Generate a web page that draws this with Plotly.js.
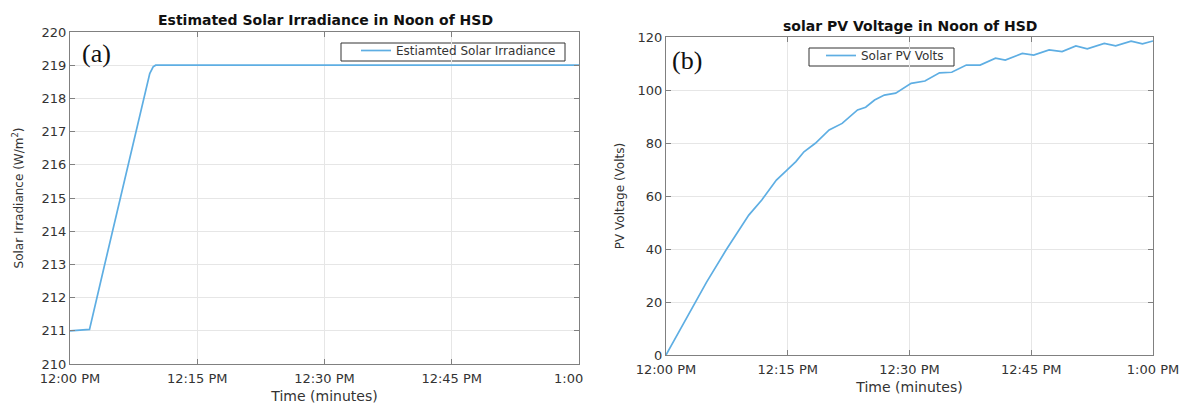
<!DOCTYPE html>
<html>
<head>
<meta charset="utf-8">
<script src="https://cdn.plot.ly/plotly-3.0.1.min.js"></script>
<style>html,body{margin:0;padding:0;background:#fff;}#chart{width:1188px;height:406px;}</style>
</head>
<body>
<div id="chart"></div>
<script>
// Time in minutes after 12:00 PM
const irrTime = [0, 1, 2.3, 4, 6, 8, 9.4, 9.8, 10.1, 15, 30, 45, 60];
const irrValues = [211, 211.02, 211.04, 212.9, 215.1, 217.3, 218.75, 218.95, 219, 219, 219, 219, 219];

const pvTime = [0, 1, 2, 3.6, 5, 7.4, 9, 10.2, 11.8, 13.6, 14.9, 16, 17, 18.4, 20.1, 21.7, 23.6, 24.6, 25.7, 26.9, 28.3, 30.2, 31.9, 33.7, 35.2, 37, 38.7, 40.6, 41.8, 43.9, 45.3, 47.2, 48.8, 50.5, 51.9, 54, 55.4, 57.3, 58.7, 60];
const pvValues = [0, 5.5, 11, 19.5, 27.5, 39.6, 47, 52.8, 58.5, 66, 69.8, 73, 76.7, 79.9, 84.9, 87.4, 92.5, 93.5, 96.2, 98.1, 98.8, 102.5, 103.4, 106.5, 106.7, 109.4, 109.4, 112, 111.3, 113.8, 113.2, 115.1, 114.5, 116.6, 115.5, 117.6, 116.7, 118.4, 117.4, 118.5];

const tickVals = [0, 15, 30, 45, 60];
const tickTextA = ['12:00 PM', '12:15 PM', '12:30 PM', '12:45 PM', '1:00\u00a0\u00a0\u00a0\u00a0\u00a0'];
const tickTextB = ['12:00 PM', '12:15 PM', '12:30 PM', '12:45 PM', '1:00 PM'];
const irrTicks = [210, 211, 212, 213, 214, 215, 216, 217, 218, 219, 220];
const pvTicks = [0, 20, 40, 60, 80, 100, 120];

const lineColor = '#5eaee3';
const fontFam = 'DejaVu Sans, Verdana, sans-serif';
const txt = '#333333';

const axisBase = {
  showline: true, linecolor: '#808080', linewidth: 1, mirror: 'ticks',
  ticks: 'inside', ticklen: 5, tickcolor: '#808080',
  showgrid: true, gridcolor: '#e6e6e6', gridwidth: 1, zeroline: false,
  tickfont: {family: fontFam, size: 13, color: txt}, automargin: false
};

const traces = [
  {x: irrTime, y: irrValues, type: 'scatter', mode: 'lines', name: 'Estiamted Solar Irradiance',
   line: {color: lineColor, width: 1.7}, xaxis: 'x', yaxis: 'y', legend: 'legend'},
  {x: pvTime, y: pvValues, type: 'scatter', mode: 'lines', name: 'Solar PV Volts',
   line: {color: lineColor, width: 1.7}, xaxis: 'x2', yaxis: 'y2', legend: 'legend2'}
];

const legendBase = {
  xanchor: 'left', yanchor: 'top', bgcolor: 'rgba(0,0,0,0)', borderwidth: 0,
  font: {family: fontFam, size: 12, color: txt}, tracegroupgap: 0, itemwidth: 30
};

const layout = {
  width: 1188, height: 406,
  margin: {l: 0, r: 0, t: 0, b: 0},
  paper_bgcolor: '#ffffff', plot_bgcolor: '#ffffff',
  font: {family: fontFam, color: txt},
  showlegend: true,
  xaxis: Object.assign({}, axisBase, {
    domain: [70/1188, 579/1188], range: [0, 60], tickvals: tickVals, ticktext: tickTextA, anchor: 'y',
    ticklabelstandoff: 2,
    title: {text: 'Time (minutes)', font: {family: fontFam, size: 14, color: txt}, standoff: 6}
  }),
  yaxis: Object.assign({}, axisBase, {
    domain: [42/406, 374/406], range: [210, 220], tickvals: irrTicks, anchor: 'x',
    title: {text: 'Solar Irradiance (W/m<sup>2</sup>)', font: {family: fontFam, size: 12, color: txt}, standoff: 15}
  }),
  xaxis2: Object.assign({}, axisBase, {
    domain: [666/1188, 1153/1188], range: [0, 60], tickvals: tickVals, ticktext: tickTextB, anchor: 'y2',
    ticklabelstandoff: 2,
    title: {text: 'Time (minutes)', font: {family: fontFam, size: 14, color: txt}, standoff: 6}
  }),
  yaxis2: Object.assign({}, axisBase, {
    domain: [51/406, 369/406], range: [0, 120], tickvals: pvTicks, anchor: 'x2',
    title: {text: 'PV Voltage (Volts)', font: {family: fontFam, size: 12, color: txt}, standoff: 10}
  }),
  legend: Object.assign({}, legendBase, {x: 356/1188, y: 1 - 36/406}),
  legend2: Object.assign({}, legendBase, {x: 821/1188, y: 1 - 41/406}),
  shapes: [
    {type: 'rect', xref: 'paper', yref: 'paper', x0: 341/1188, x1: 565/1188, y0: 1 - 61/406, y1: 1 - 43/406,
     line: {color: '#333333', width: 1}, fillcolor: '#ffffff', layer: 'below'},
    {type: 'rect', xref: 'paper', yref: 'paper', x0: 809/1188, x1: 954/1188, y0: 1 - 66/406, y1: 1 - 48/406,
     line: {color: '#333333', width: 1}, fillcolor: '#ffffff', layer: 'below'}
  ],
  annotations: [
    {text: '<b>Estimated Solar Irradiance in Noon of HSD</b>', xref: 'paper', yref: 'paper',
     x: 325/1188, y: 1 - 20/406, xanchor: 'center', yanchor: 'middle', showarrow: false,
     font: {family: fontFam, size: 14, color: '#111111'}},
    {text: '<b>solar PV Voltage in Noon of HSD</b>', xref: 'paper', yref: 'paper',
     x: 910/1188, y: 1 - 26/406, xanchor: 'center', yanchor: 'middle', showarrow: false,
     font: {family: fontFam, size: 14, color: '#111111'}},
    {text: '(a)', xref: 'paper', yref: 'paper', x: 80/1188, y: 1 - 53/406,
     xanchor: 'left', yanchor: 'middle', showarrow: false,
     font: {family: 'Liberation Serif, Times New Roman, serif', size: 26, color: '#111111'}},
    {text: '(b)', xref: 'paper', yref: 'paper', x: 670/1188, y: 1 - 61/406,
     xanchor: 'left', yanchor: 'middle', showarrow: false,
     font: {family: 'Liberation Serif, Times New Roman, serif', size: 26, color: '#111111'}}
  ]
};

Plotly.newPlot('chart', traces, layout, {displayModeBar: false, staticPlot: true});
</script>
</body>
</html>
